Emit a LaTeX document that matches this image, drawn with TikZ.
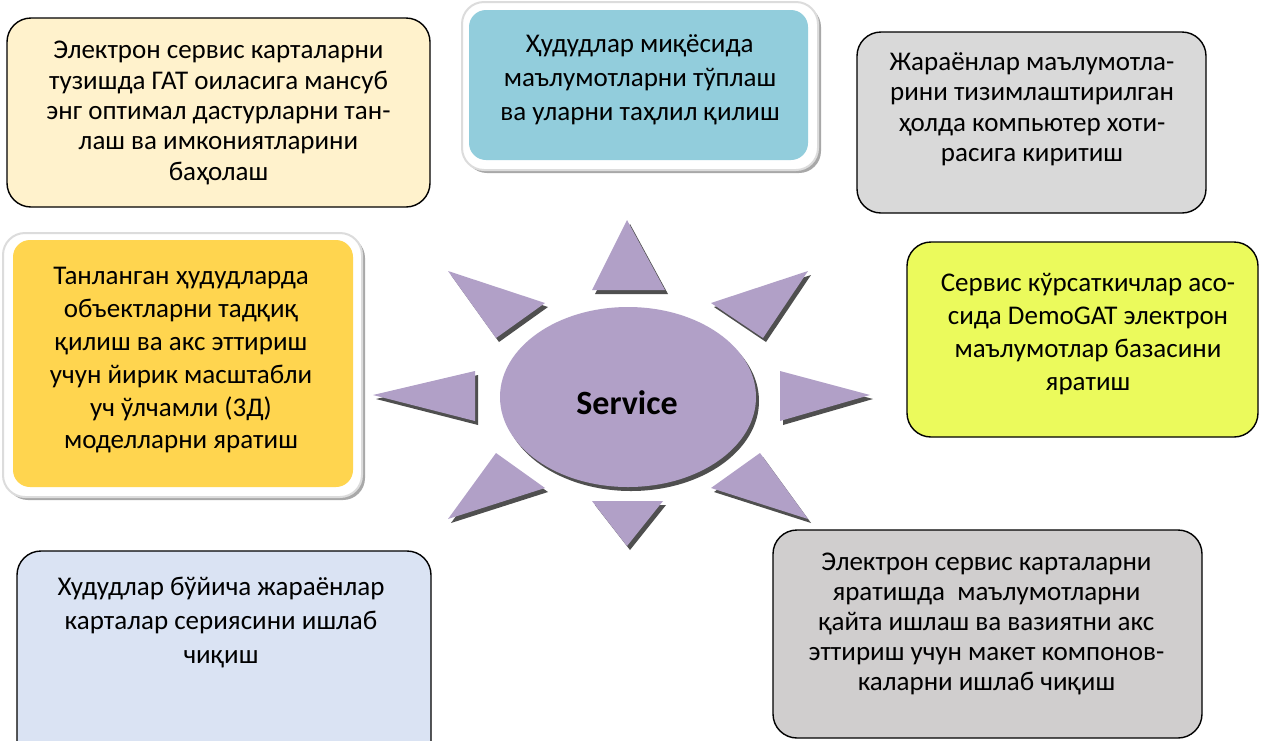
\documentclass[tikz,border=0pt]{standalone}
\usepackage{fontspec}
\setmainfont{Carlito}
\usetikzlibrary{shapes.geometric}
\definecolor{cA}{HTML}{FFF2CC}
\definecolor{cB}{HTML}{92CDDC}
\definecolor{cC}{HTML}{D9D9D9}
\definecolor{cD}{HTML}{FFD54F}
\definecolor{cE}{HTML}{EBFA5C}
\definecolor{cF}{HTML}{DAE3F3}
\definecolor{cG}{HTML}{D0CECE}
\definecolor{sun}{HTML}{B1A0C7}
\definecolor{shd}{HTML}{4F4F4F}
\definecolor{frameline}{HTML}{DCDCDC}
\definecolor{frameshd}{HTML}{A8A8A8}
\tikzset{
  box/.style={draw=black, line width=1.4pt, rounded corners=24pt, inner sep=0pt},
  outerframe/.style={fill=white, draw=frameline, line width=2pt, rounded corners=22pt, inner sep=0pt},
  framesh/.style={fill=frameshd, rounded corners=22pt, inner sep=0pt},
  innerframe/.style={rounded corners=17pt, inner sep=0pt},
  txt/.style={align=center, inner sep=0pt, font=\fontsize{27}{#1}\selectfont},
  ray/.style={fill=sun},
  rayshadow/.style={fill=shd},
}
\begin{document}
\begin{tikzpicture}[x=1pt,y=-1pt]
\useasboundingbox (0,0) rectangle (1264,740);
\clip (0,0) rectangle (1264,740);
\fill[white] (0,0) rectangle (1264,740);

% box 1 top-left
\node[box, fill=cA, minimum width=423pt, minimum height=189pt] (b1) at (218.5,112.5) {};
\node[txt=30.3] (t1) at (218.5,113) {Электрон сервис карталарни\\тузишда ГАТ оиласига мансуб\\энг оптимал дастурларни тан-\\лаш ва имкониятларини\\баҳолаш};

% box 2 top-centre (framed)
\node[framesh, minimum width=356pt, minimum height=168pt] (f2s) at (643,89) {};
\node[outerframe, minimum width=356pt, minimum height=168pt] (f2) at (640,86) {};
\node[innerframe, fill=cB, minimum width=339pt, minimum height=150pt] (b2) at (638.5,85) {};
\node[txt=34] (t2) at (640,80) {Ҳудудлар миқёсида\\маълумотларни тўплаш\\ва уларни таҳлил қилиш};

% box 3 top-right
\node[box, fill=cC, minimum width=349pt, minimum height=181pt] (b3) at (1031.5,122.5) {};
\node[txt=30.5] (t3) at (1032,109) {Жараёнлар маълумотла-\\рини тизимлаштирилган\\ҳолда компьютер хоти-\\расига киритиш};

% box 4 middle-left (framed)
\node[framesh, minimum width=359pt, minimum height=264pt] (f4s) at (185.5,368) {};
\node[outerframe, minimum width=359pt, minimum height=264pt] (f4) at (182.5,365) {};
\node[innerframe, fill=cD, minimum width=340pt, minimum height=247pt] (b4) at (183,363.5) {};
\node[txt=32.8] (t4) at (181,360.5) {Танланган ҳудудларда\\объектларни тадқиқ\\қилиш ва акс эттириш\\учун йирик масштабли\\уч ўлчамли (3Д)\\моделларни яратиш};

% box 5 middle-right
\node[box, fill=cE, minimum width=351pt, minimum height=195pt] (b5) at (1082.5,339.5) {};
\node[txt=33.3] (t5) at (1088,334) {Сервис кўрсаткичлар асо-\\сида DemoGAT электрон\\маълумотлар базасини\\яратиш};

% box 6 bottom-left
\node[box, fill=cF, minimum width=414pt, minimum height=220pt] (b6) at (224,661) {};
\node[txt=34] (t6) at (221,622.5) {Худудлар бўйича жараёнлар\\карталар сериясини ишлаб\\чиқиш};

% box 7 bottom-right
\node[box, fill=cG, minimum width=429pt, minimum height=208pt] (b7) at (987.5,634) {};
\node[txt=30] (t7) at (986.5,624) {Электрон сервис карталарни\\яратишда~ маълумотларни\\қайта ишлаш ва вазиятни акс\\эттириш учун макет компонов-\\каларни ишлаб чиқиш};

% sun rays: shadows
\begin{scope}[shift={(3,4)}]
\fill[rayshadow] (627,220) -- (592,290) -- (665,290) -- cycle;
\fill[rayshadow] (627,546) -- (592,501) -- (663,501) -- cycle;
\fill[rayshadow] (373,395) -- (475,371) -- (475,421) -- cycle;
\fill[rayshadow] (870,395) -- (780,371) -- (780,421) -- cycle;
\fill[rayshadow] (448,271) -- (545,303) -- (496,338) -- cycle;
\fill[rayshadow] (808,271) -- (711,303) -- (763,338) -- cycle;
\fill[rayshadow] (448,519) -- (496,453) -- (545,488) -- cycle;
\fill[rayshadow] (808,519) -- (760,453) -- (711,488) -- cycle;
\fill[rayshadow] (628,397) ellipse [x radius=128, y radius=90];
\end{scope}
% sun rays
\fill[ray] (627,220) -- (592,290) -- (665,290) -- cycle;
\fill[ray] (627,546) -- (592,501) -- (663,501) -- cycle;
\fill[ray] (373,395) -- (475,371) -- (475,421) -- cycle;
\fill[ray] (870,395) -- (780,371) -- (780,421) -- cycle;
\fill[ray] (448,271) -- (545,303) -- (496,338) -- cycle;
\fill[ray] (808,271) -- (711,303) -- (763,338) -- cycle;
\fill[ray] (448,519) -- (496,453) -- (545,488) -- cycle;
\fill[ray] (808,519) -- (760,453) -- (711,488) -- cycle;
\node[ellipse, fill=sun, minimum width=256pt, minimum height=180pt, inner sep=0pt] (core) at (628,397) {};
\node[font=\fontsize{34}{40}\selectfont\bfseries, inner sep=0pt] (svc) at (627,403) {Service};
\end{tikzpicture}
\end{document}
